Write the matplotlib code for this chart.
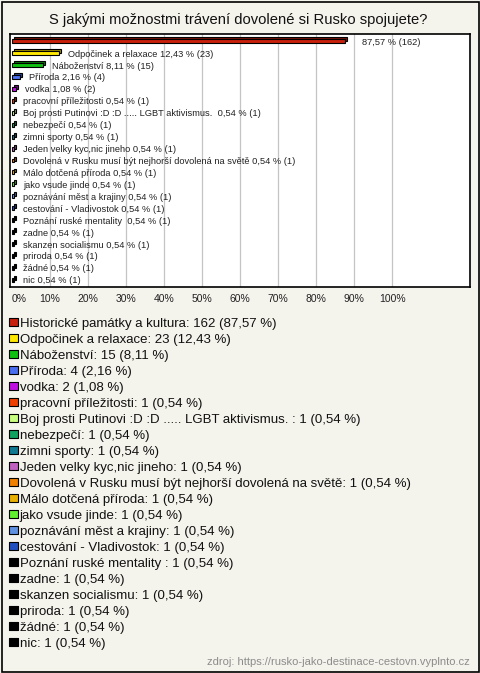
import numpy as np
import matplotlib
matplotlib.use("Agg")
import matplotlib.pyplot as plt
from matplotlib.patches import Rectangle

plt.rcParams['font.family'] = ['Liberation Sans', 'DejaVu Sans']

# data
nazvy = [
    "Historické památky a kultura",
    "Odpočinek a relaxace",
    "Náboženství",
    "Příroda",
    "vodka",
    "pracovní příležitosti",
    "Boj prosti Putinovi :D :D ..... LGBT aktivismus. ",
    "nebezpečí",
    "zimni sporty",
    "Jeden velky kyc,nic jineho",
    "Dovolená v Rusku musí být nejhorší dovolená na světě",
    "Málo dotčená příroda",
    "jako vsude jinde",
    "poznávání měst a krajiny",
    "cestování - Vladivostok",
    "Poznání ruské mentality ",
    "zadne",
    "skanzen socialismu",
    "priroda",
    "žádné",
    "nic",
]
pocty = [162, 23, 15, 4, 2, 1, 1, 1, 1, 1, 1, 1, 1, 1, 1, 1, 1, 1, 1, 1, 1]
procenta = [87.57, 12.43, 8.11, 2.16, 1.08] + [0.54] * 16
barvy = [
    "#c8200c", "#ffe800", "#10c010", "#4a6ef0", "#c010e0",
    "#f04000", "#c8ff80", "#10a060", "#107890", "#c060c0",
    "#f08000", "#e8b000", "#60f030", "#6090e0", "#2050c0",
    "#000000", "#000000", "#000000", "#000000", "#000000", "#000000",
]
ticky = list(range(0, 101, 10))

W, H = 480, 673
bg = "#f4f3ec"

def fmt(v):
    return f"{v:.2f}".replace(".", ",")

def tmavsi(c, f=0.6):
    rgb = np.array(matplotlib.colors.to_rgb(c))
    return tuple(rgb * f)

fig = plt.figure(figsize=(W / 100, H / 100), dpi=100, facecolor=bg)

# ramecek kolem celeho obrazku
fig.patches.append(Rectangle((1.5 / W, 1.5 / H), 477 / W, 670 / H, transform=fig.transFigure,
                             fill=False, edgecolor="black", linewidth=1.2))

fig.text(238 / W, 1 - 20 / H, "S jakými možnostmi trávení dovolené si Rusko spojujete?",
         ha="center", va="center", fontsize=10.6, color="#111111")

# --- graf ---
ax = fig.add_axes([10 / W, 1 - 287 / H, 460 / W, 253 / H])
ax.set_facecolor("white")
y = np.arange(len(nazvy))
dx, dy = 0.55, 0.16
ax.barh(y - dy, procenta, left=dx, height=0.33, color=[tmavsi(c) for c in barvy],
        edgecolor="black", linewidth=0.8, zorder=2)
ax.barh(y, procenta, height=0.33, color=barvy, edgecolor="black", linewidth=0.8, zorder=3)

for i in range(len(nazvy)):
    if i == 0:
        txt = f"{fmt(procenta[i])} % ({pocty[i]})"
        off = 11
    else:
        txt = f"{nazvy[i]} {fmt(procenta[i])} % ({pocty[i]})"
        off = 5
    ax.annotate(txt, (procenta[i] + dx, y[i]), xytext=(off, 0), textcoords="offset points",
                ha="left", va="center_baseline", fontsize=6.7, color="#222222", zorder=4)

for t in ticky[1:]:
    ax.axvline(t, color="#c4c4c4", linewidth=0.9, zorder=1)

ax.set_xlim(-0.53, 120.5)
ax.set_ylim(len(nazvy) - 0.4, -0.6)
ax.set_yticks([])
ax.set_xticks(ticky)
ax.set_xticklabels([f"{t}%" for t in ticky], fontsize=7.5, color="#222222")
ax.get_xticklabels()[0].set_ha("left")
ax.tick_params(axis="x", length=0, pad=5)
for s in ax.spines.values():
    s.set_linewidth(1.2)
    s.set_color("black")

# --- legenda ---
lg = fig.add_axes([0, 1 - 650 / H, 1, 336 / H])
lg.set_xlim(0, W)
lg.set_ylim(len(nazvy) - 0.5, -0.5)
lg.axis("off")
lg.scatter(np.full(len(nazvy), 13.5), y, marker="s", s=36, c=barvy, edgecolors="black", linewidths=0.8)
for i in range(len(nazvy)):
    lg.text(19.5, y[i], f"{nazvy[i]}: {pocty[i]} ({fmt(procenta[i])} %)",
            ha="left", va="center_baseline", fontsize=9.5, color="#111111")

fig.text(470 / W, 1 - 662 / H, "zdroj: https://rusko-jako-destinace-cestovn.vyplnto.cz",
         ha="right", va="center", fontsize=8, color="#8c8c8c")

fig.savefig("out.png", dpi=100, facecolor=bg)
